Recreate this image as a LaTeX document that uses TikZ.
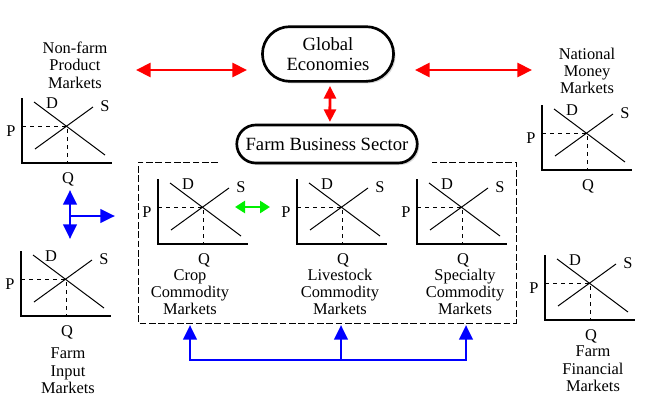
\documentclass[tikz,border=0pt]{standalone}
\usepackage{fontspec}
\setmainfont{Liberation Serif}
\usetikzlibrary{arrows.meta,shapes.misc,shadows}

\tikzset{
  axis/.style={line width=2.2pt},
  curve/.style={line width=0.75pt},
  eqline/.style={dashed, line width=0.75pt},
  lbl/.style={font=\rmfamily\fontsize{12.3}{13}\selectfont, inner sep=0pt},
  mkt/.style={align=center, font=\rmfamily\fontsize{12.3}{13}\selectfont, inner sep=0pt},
  sector/.style={rounded rectangle, draw, line width=2pt, fill=white, align=center,
    font=\rmfamily\fontsize{14}{15}\selectfont,
    drop shadow={opacity=0.3, shadow xshift=1.5pt, shadow yshift=-1.5pt}},
  sectorbox/.style={dash pattern=on 5pt off 2pt, line width=0.75pt},
  redarrow/.style={draw=red, line width=2.2pt,
    {Triangle[length=11pt,width=10.5pt]}-{Triangle[length=11pt,width=10.5pt]}},
  redlink/.style={draw=red, line width=2.2pt,
    {Triangle[length=9.5pt,width=9pt]}-{Triangle[length=9.5pt,width=9pt]}},
  greenarrow/.style={draw=green!90!black!60!green, line width=2pt,
    {Triangle[length=7.5pt,width=9pt]}-{Triangle[length=7.5pt,width=9pt]}},
  bluearrow/.style={draw=blue, line width=2.2pt, -{Triangle[length=11pt,width=10pt]}},
  bluebar/.style={draw=blue, line width=2.2pt, line cap=rect},
}

% supply and demand chart, origin at the axis corner
\newcommand{\sdmarket}[3]{%
  \begin{scope}[shift={(#2,#3)}]
    \draw[axis] (0,-65) -- (0,0) -- (90,0);
    \draw[curve] (12,-61) -- (83,-8);
    \draw[curve] (13,-14) -- (71,-56);
    \draw[eqline] (0,-37) -| (45,0);
    \node[lbl] (#1-D) at (30,-60) {D};
    \node[lbl] (#1-S) at (83,-57) {S};
    \node[lbl] (#1-P) at (-11,-32) {P};
    \node[lbl] (#1-Q) at (46,16) {Q};
  \end{scope}}

\begin{document}
\begin{tikzpicture}[x=0.75pt, y=-0.75pt]
  \useasboundingbox (0,0) rectangle (656,400);

  % dashed frame round the farm markets
  \draw[sectorbox] (218,162) -| (138,323) -| (516,162) -- (432,162);

  % central boxes
  \node[sector, minimum width=105pt, minimum height=41pt] (global) at (328,54) {Global\\Economies};
  \node[sector, minimum width=142pt, minimum height=28.5pt] (fbs) at (327,144) {Farm Business Sector};

  % the charts
  \sdmarket{nfp}{22}{163}
  \sdmarket{nmm}{542}{170}
  \sdmarket{fim}{21}{316}
  \sdmarket{ffm}{545}{320}
  \sdmarket{ccm}{158}{244}
  \sdmarket{lcm}{297}{244}
  \sdmarket{scm}{417}{244}

  % market names
  \node[mkt] (nonfarm) at (75,65) {Non-farm\\Product\\Markets};
  \node[mkt] (natmoney) at (587,71) {National\\Money\\Markets};
  \node[mkt] (farminput) at (68,371) {Farm\\Input\\Markets};
  \node[mkt] (farmfin) at (593,369) {Farm\\Financial\\Markets};
  \node[mkt] (crop) at (190,292) {Crop\\Commodity\\Markets};
  \node[mkt] (livestock) at (340,292) {Livestock\\Commodity\\Markets};
  \node[mkt] (specialty) at (465,292) {Specialty\\Commodity\\Markets};

  % red links
  \coordinate (nfp-e) at (136,70);
  \coordinate (gl-w) at (247,70);
  \coordinate (gl-e) at (415,70);
  \coordinate (nmm-w) at (532,70);
  \draw[redarrow] (nfp-e) -- (gl-w);
  \draw[redarrow] (gl-e) -- (nmm-w);
  \draw[redlink, shorten <=2.5pt, shorten >=1.3pt] ([xshift=1.5pt]global.south) -- ([xshift=2.2pt]fbs.north);

  % green link crop <-> livestock
  \coordinate (ccm-e) at (235,207);
  \coordinate (lcm-w) at (270,207);
  \draw[greenarrow] (ccm-e) -- (lcm-w);

  % blue links on the left
  \coordinate (bl-n) at (70,190);
  \coordinate (bl-s) at (70,239);
  \coordinate (bl-m) at (70,216);
  \coordinate (bl-e) at (115,216);
  \draw[bluearrow] (bl-m) -- (bl-n);
  \draw[bluearrow] (bl-m) -- (bl-s);
  \draw[bluearrow] (bl-m) -- (bl-e);

  % blue feed into the farm markets
  \coordinate (b1) at (190,360);
  \coordinate (b2) at (341,360);
  \coordinate (b3) at (466,360);
  \coordinate (crop-in) at (190,325);
  \coordinate (live-in) at (341,325);
  \coordinate (spec-in) at (466,325);
  \draw[bluebar] (b1) -- (b3);
  \draw[bluearrow] (b1) -- (crop-in);
  \draw[bluearrow] (b2) -- (live-in);
  \draw[bluearrow] (b3) -- (spec-in);
\end{tikzpicture}
\end{document}
